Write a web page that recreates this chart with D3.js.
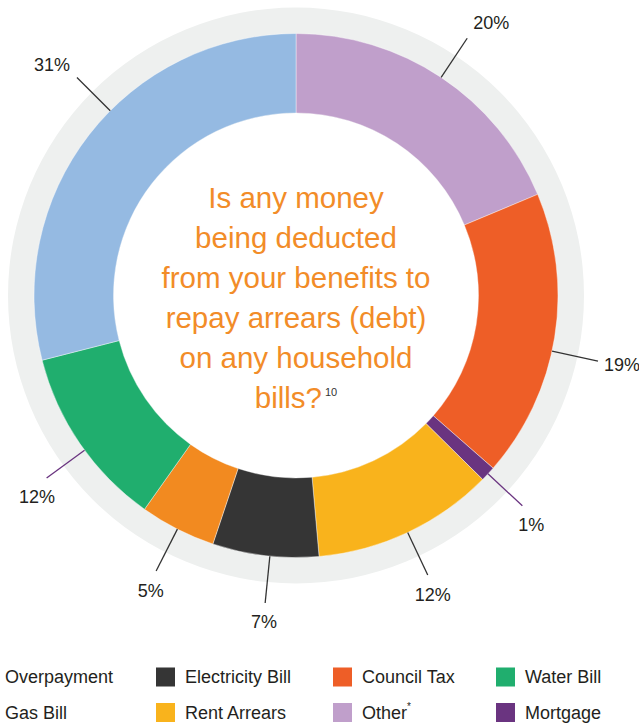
<!DOCTYPE html>
<html>
<head>
<meta charset="utf-8">
<script src="https://cdn.jsdelivr.net/npm/d3@7"></script>
<style>
  html, body { margin: 0; padding: 0; background: #fff; }
  svg { display: block; font-family: "Liberation Sans", Arial, sans-serif; }
</style>
</head>
<body>
<script>
// slices, clockwise from 12 o'clock (answers sum to 107, pie normalises)
const categories = ["Other", "Council Tax", "Mortgage", "Rent Arrears", "Electricity Bill", "Overpayment", "Water Bill", "Gas Bill"];
const values = [20, 19, 1, 12, 7, 5, 12, 31];
const colors = ["#C09FCB", "#EE5E27", "#6A3480", "#F9B31C", "#353535", "#F28A20", "#20AE6E", "#95BAE2"];

const legendOrder = ["Overpayment", "Electricity Bill", "Council Tax", "Water Bill",
                     "Gas Bill", "Rent Arrears", "Other", "Mortgage"];
const titleLines = ["Is any money", "being deducted", "from your benefits to",
                    "repay arrears (debt)", "on any household", "bills?"];
const titleNote = "10";

const W = 639, H = 726;
const cx = 296, cy = 295.5;
const rInner = 182.5, rOuter = 262, rRing = 288;

const svg = d3.select("body").append("svg").attr("width", W).attr("height", H);
const g = svg.append("g").attr("transform", "translate(" + cx + "," + cy + ")");

const color = d3.scaleOrdinal().domain(categories).range(colors);

// grey backing ring
g.append("path")
  .attr("d", d3.arc().innerRadius(rInner).outerRadius(rRing).startAngle(0).endAngle(2 * Math.PI)())
  .attr("fill", "#EEF0EF");

const data = categories.map((c, i) => ({ name: c, value: values[i] }));
const pie = d3.pie().sort(null).value(d => d.value);
const arcs = pie(data);
const arc = d3.arc().innerRadius(rInner).outerRadius(rOuter);

g.selectAll(".slice")
  .data(arcs)
  .enter().append("path")
  .attr("class", "slice")
  .attr("d", arc)
  .attr("fill", d => color(d.data.name))
  .attr("stroke", "#fff")
  .attr("stroke-width", 0.4);

// leader lines + labels
const nudge = { "Gas Bill": 7, "Council Tax": 3, "Water Bill": -1.7, "Electricity Bill": -1 };   // degrees
const purpleLine = { "Mortgage": true, "Water Bill": true };
const r1 = rOuter, r2 = 309;

arcs.forEach(d => {
  const a = (d.startAngle + d.endAngle) / 2 + (nudge[d.data.name] || 0) * Math.PI / 180;
  const ux = Math.sin(a), uy = -Math.cos(a);
  const x2 = ux * r2, y2 = uy * r2;
  g.append("line")
    .attr("x1", ux * r1).attr("y1", uy * r1)
    .attr("x2", x2).attr("y2", y2)
    .attr("stroke", purpleLine[d.data.name] ? "#6A3480" : "#333")
    .attr("stroke-width", 1.3);

  const t = g.append("text")
    .attr("font-size", 18)
    .attr("fill", "#231F20")
    .attr("dominant-baseline", "central")
    .text(d.data.value + "%");
  if (uy > 0.5) {
    t.attr("x", x2 + ux * 12).attr("y", y2 + 19.5).attr("text-anchor", "middle");
  } else {
    t.attr("x", x2 + (ux > 0 ? 6 : -7)).attr("y", y2 + uy * 18)
     .attr("text-anchor", ux > 0 ? "start" : "end");
  }
});

// centre question
const title = svg.append("g").attr("fill", "#F28C28").attr("font-size", 29.5).attr("text-anchor", "middle");
titleLines.forEach((line, i) => {
  const t = title.append("text")
    .attr("x", cx)
    .attr("y", 208 + i * 40);
  t.append("tspan").text(line);
  if (i === titleLines.length - 1) {
    t.append("tspan").attr("font-size", 11).attr("fill", "#333").attr("dx", 3).attr("dy", -12).text(titleNote);
  }
});

// legend
const colX = [5, 185, 362, 525];
const rowY = [677, 712.5];
const legend = svg.append("g").attr("font-size", 18).attr("fill", "#231F20");
legendOrder.forEach((name, i) => {
  const x = colX[i % 4], y = rowY[Math.floor(i / 4)];
  legend.append("rect")
    .attr("x", x - 29).attr("y", y - 9.5)
    .attr("width", 19).attr("height", 19)
    .attr("fill", color(name));
  const t = legend.append("text").attr("x", x).attr("y", y).attr("dominant-baseline", "central");
  t.append("tspan").text(name);
  if (name === "Other") {
    t.append("tspan").attr("font-size", 10).attr("dy", -7).text("*");
  }
});
</script>
</body>
</html>
